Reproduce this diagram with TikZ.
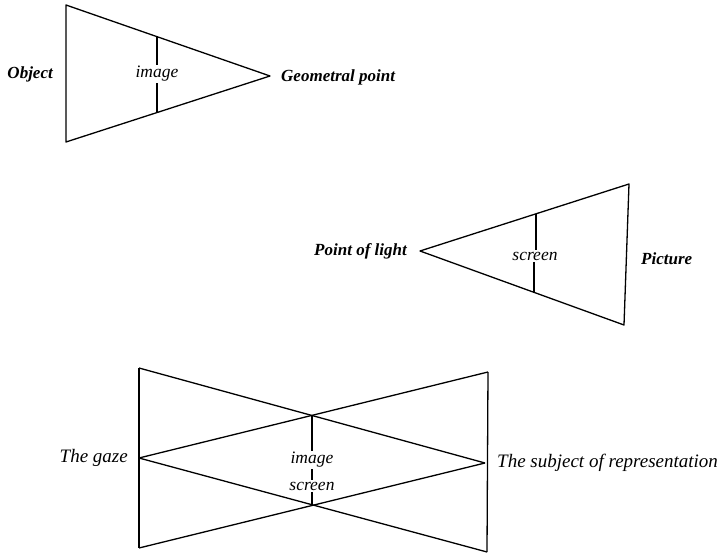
\documentclass[tikz,border=0pt]{standalone}
\usepackage{fontspec}
\setmainfont{Liberation Serif}
\begin{document}
\begin{tikzpicture}[x=1pt,y=-1pt,
  edge/.style={line width=1.3pt,line join=round},
  lab/.style={font=\fontsize{19}{22}\selectfont\itshape,inner sep=1pt},
  boldlab/.style={font=\fontsize{17}{20}\selectfont\bfseries\itshape,inner sep=1pt},
  mid/.style={font=\fontsize{17.5}{20}\selectfont\itshape,inner sep=1.5pt}]
\useasboundingbox (0,0) rectangle (718,553);
% ---------- diagram 1
\coordinate (oT) at (66,5);
\coordinate (oB) at (66,142);
\coordinate (gP) at (270,76);
\coordinate (iT) at (157,37);
\coordinate (iB) at (157,113);
\draw[edge] (oT) -- (oB) -- (gP) -- cycle;
\node[mid] (img1) at (157,74) {image};
\draw[edge] (iT) -- (img1.north);
\draw[edge] (img1.south) -- (iB);
\node[boldlab,anchor=east] (obj) at (54,74) {Object};
\node[boldlab,anchor=west] (geo) at (280,77) {Geometral point};
% ---------- diagram 2
\coordinate (pL) at (420,251);
\coordinate (pT) at (629,184);
\coordinate (pB) at (624,325);
\coordinate (sT) at (536,214);
\coordinate (sB) at (534,293);
\draw[edge] (pL) -- (pT) -- (pB) -- cycle;
\node[mid] (scr2) at (535,256) {screen};
\draw[edge] (sT) -- (scr2.north -| sT);
\draw[edge] (scr2.south -| sB) -- (sB);
\node[boldlab,anchor=east] (pol) at (408,251) {Point of light};
\node[boldlab,anchor=west] (pic) at (640,259) {Picture};
% ---------- diagram 3
\coordinate (lT) at (139,368);
\coordinate (lB) at (139,548);
\coordinate (gz) at (139,458);
\coordinate (rT) at (488,372);
\coordinate (rB) at (487,552);
\coordinate (sj) at (485,463);
\coordinate (cT) at (312,415);
\coordinate (cB) at (312,505);
\draw[edge] (lT) -- (lB);
\draw[edge] (rT) -- (rB);
\draw[edge] (gz) -- (rT);
\draw[edge] (gz) -- (rB);
\draw[edge] (sj) -- (lT);
\draw[edge] (sj) -- (lB);
\node[mid] (img3) at (312,460) {image};
\node[mid] (scr3) at (312,486) {screen};
\draw[edge] (cT) -- (img3.north);
\draw[edge] (img3.south) -- (scr3.north);
\draw[edge] (scr3.south) -- (cB);
\node[lab,anchor=east] (gaze) at (129,458) {The gaze};
\node[lab,anchor=west] (subj) at (496,463) {The subject of representation};
\end{tikzpicture}
\end{document}
